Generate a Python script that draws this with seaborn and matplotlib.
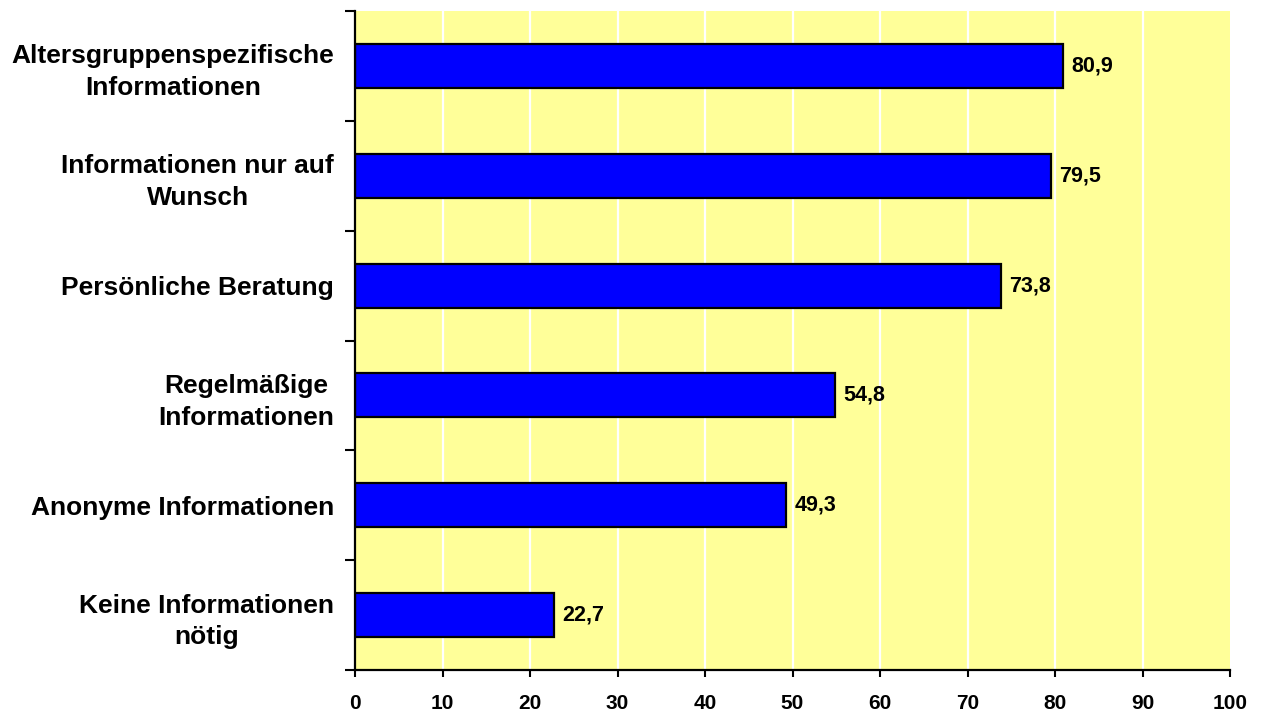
import matplotlib
matplotlib.use("Agg")
import matplotlib.pyplot as plt
import seaborn as sns
import pandas as pd
import numpy as np

categories = [
    "Altersgruppenspezifische\nInformationen",
    "Informationen nur auf\nWunsch",
    "Persönliche Beratung",
    "Regelmäßige\nInformationen",
    "Anonyme Informationen",
    "Keine Informationen\nnötig",
]
values = [80.9, 79.5, 73.8, 54.8, 49.3, 22.7]
value_labels = ["80,9", "79,5", "73,8", "54,8", "49,3", "22,7"]
xticks = [0, 10, 20, 30, 40, 50, 60, 70, 80, 90, 100]

sns.set_style("white")
plt.rcParams['font.family'] = ['Liberation Sans', 'DejaVu Sans']
plt.rcParams['font.weight'] = 'bold'
plt.rcParams['text.color'] = 'black'
plt.rcParams['xtick.color'] = 'black'
plt.rcParams['ytick.color'] = 'black'
plt.rcParams['xtick.labelcolor'] = 'black'
plt.rcParams['ytick.labelcolor'] = 'black'

df = pd.DataFrame({"cat": categories, "val": values})

fig = plt.figure(figsize=(12.62, 7.13), dpi=100)
ax = fig.add_axes([355/1262, 1 - 670/713, (1230 - 355)/1262, (670 - 11)/713])
ax.set_facecolor('#FFFF99')

sns.barplot(data=df, x="val", y="cat", orient="h", color="#0000FF",
            saturation=1, edgecolor="black", linewidth=1.6, width=0.4, ax=ax, zorder=3)

ax.set_xlim(0, 100)
ax.set_ylim(5.5, -0.5)
ax.set_xlabel("")
ax.set_ylabel("")

# grid
for g in xticks[1:-1]:
    ax.axvline(g, color='white', lw=1.6, zorder=1)

# x ticks
ax.set_xticks(xticks)
ax.set_xticklabels([str(t) for t in xticks], fontsize=15, fontweight='bold', color='black')
ax.tick_params(axis='x', direction='out', length=5, width=1.5, color='black', pad=12, bottom=True)

# y ticks: major at boundaries, labels via minor at centers
n = len(categories)
ax.set_yticks(np.arange(-0.5, n, 1.0))
ax.set_yticklabels([])
ax.tick_params(axis='y', which='major', direction='out', length=7, width=1.5, color='black', left=True)
ax.set_yticks(np.arange(n), minor=True)
ax.set_yticklabels(categories, minor=True, fontsize=19, fontweight='bold', color='black')
ax.tick_params(axis='y', which='minor', length=0, pad=15)
for t in ax.get_yticklabels(minor=True):
    t.set_multialignment('center')
    t.set_linespacing(1.4)

for s in ['top', 'right']:
    ax.spines[s].set_visible(False)
for s in ['left', 'bottom']:
    ax.spines[s].set_color('black')
    ax.spines[s].set_linewidth(1.6)
    ax.spines[s].set_zorder(5)

ax.bar_label(ax.containers[0], labels=value_labels, padding=6, fontsize=15.5,
             fontweight='bold', color='black')

fig.savefig("out.png", dpi=100)
